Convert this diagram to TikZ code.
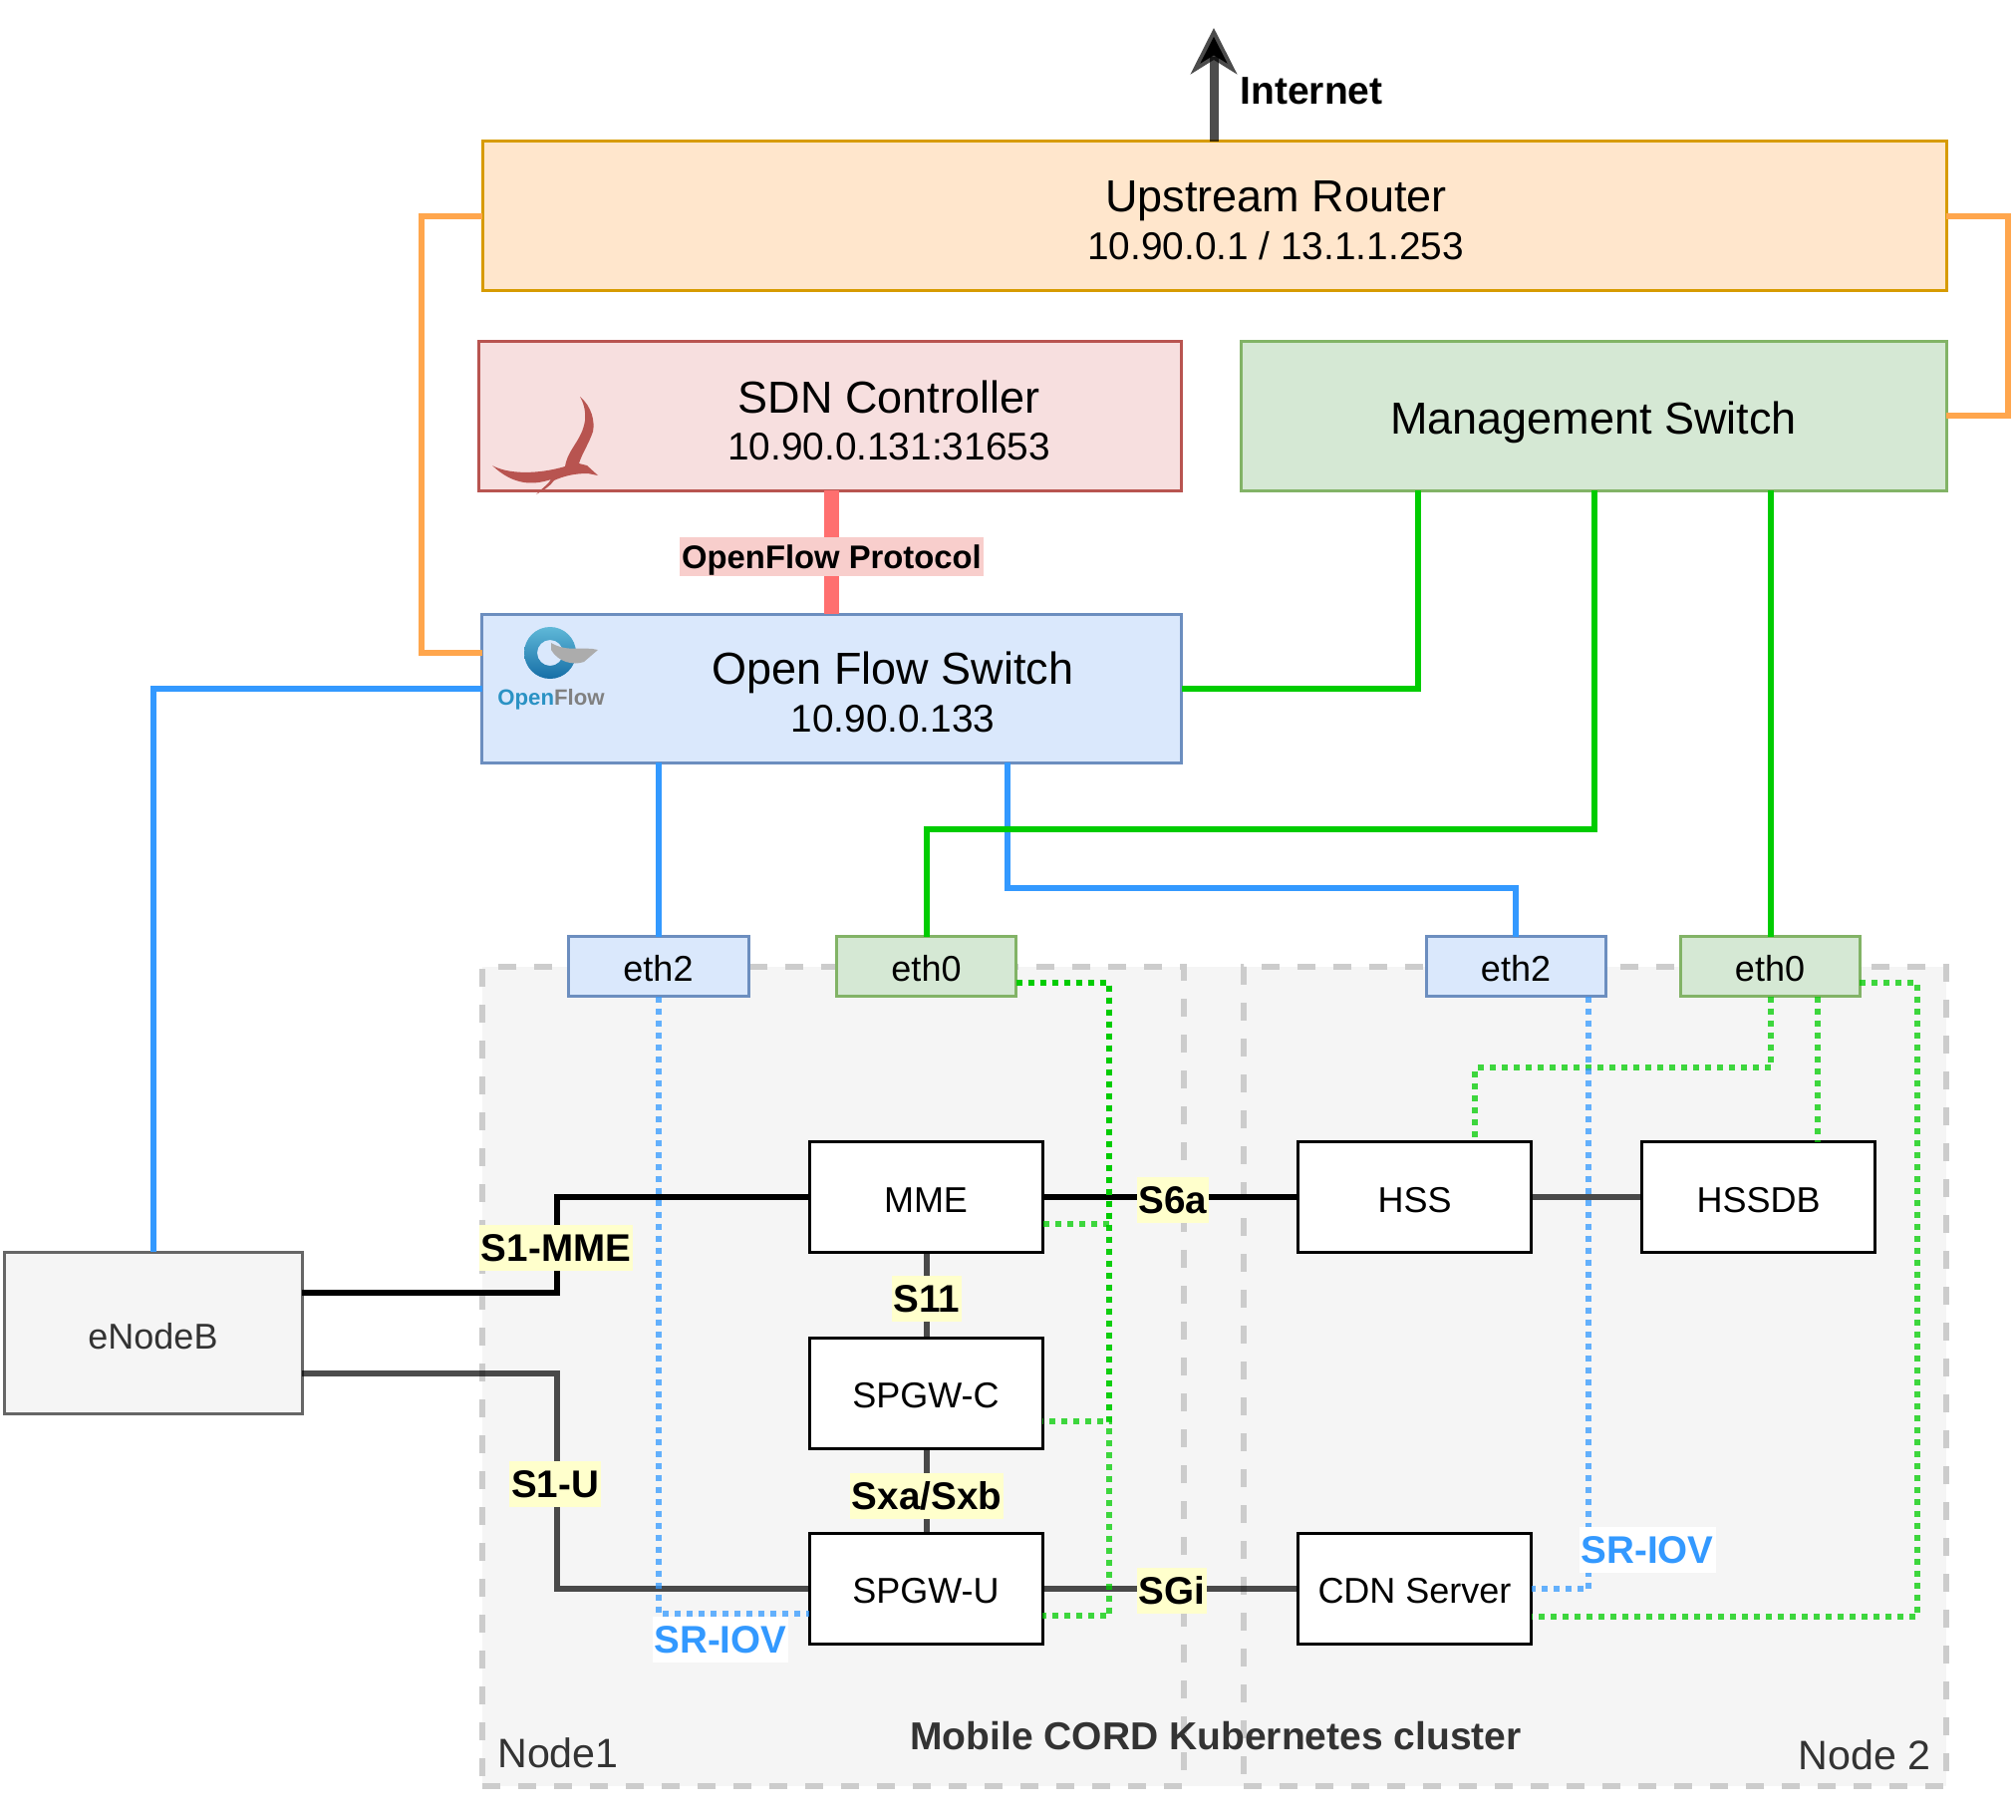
\documentclass[tikz,border=0pt]{standalone}
\usepackage{fontspec}
\setmainfont{Liberation Sans}
\usetikzlibrary{arrows.meta,calc}
\newcommand\fsz[1]{\fontsize{#1}{#1}\selectfont}
\definecolor{cRouterF}{HTML}{FFE6CC}\definecolor{cRouterD}{HTML}{D79B00}
\definecolor{cSdnF}{HTML}{F7DFDF}\definecolor{cSdnD}{HTML}{B85450}
\definecolor{cMgF}{HTML}{D5E8D4}\definecolor{cMgD}{HTML}{82B366}
\definecolor{cOfF}{HTML}{DAE8FC}\definecolor{cOfD}{HTML}{6C8EBF}
\definecolor{cOrange}{HTML}{FFA64D}\definecolor{cBlue}{HTML}{3399FF}
\definecolor{cGreen}{HTML}{00CC00}\definecolor{cRed}{HTML}{FF6F6F}
\definecolor{cPink}{HTML}{F8CECC}\definecolor{cYel}{HTML}{FFFFCC}
\definecolor{cDash}{HTML}{CCCCCC}\definecolor{cBack}{HTML}{F5F5F5}
\definecolor{cTxt}{HTML}{333333}\definecolor{cEnb}{HTML}{666666}
\definecolor{cLogoA}{HTML}{5FB8D8}\definecolor{cLogoB}{HTML}{166EA6}\definecolor{cLogoT}{HTML}{2A92C4}
\tikzset{
  sz/.style 2 args={minimum width=#1*0.5pt,minimum height=#2*0.5pt},
  boxbase/.style={rectangle,inner sep=0pt,outer sep=0pt,line width=1.5pt},
  routerbox/.style={boxbase,fill=cRouterF,draw=cRouterD},
  sdnbox/.style={boxbase,fill=cSdnF,draw=cSdnD},
  mgbox/.style={boxbase,fill=cMgF,draw=cMgD,font=\fsz{22.5},text height=18.2pt,text depth=0pt},
  ofbox/.style={boxbase,fill=cOfF,draw=cOfD},
  ethblue/.style={boxbase,fill=cOfF,draw=cOfD,font=\fsz{18},sz={180}{60},text height=14.6pt,text depth=0pt},
  ethgreen/.style={boxbase,fill=cMgF,draw=cMgD,font=\fsz{18},sz={180}{60},text height=14.6pt,text depth=0pt},
  fnbox/.style={boxbase,fill=white,draw=black,font=\fsz{18},sz={234}{111},text height=15pt,text depth=0pt},
  enbbox/.style={boxbase,fill=cBack,draw=cEnb,text=cTxt,font=\fsz{18},text height=16.2pt,text depth=0pt},
  zonefill/.style={rectangle,inner sep=0pt,outer sep=0pt,fill=cBack},
  zone/.style={rectangle,inner sep=0pt,outer sep=0pt,draw=cDash,line width=3pt,dash pattern=on 9pt off 9pt},
  big/.style={font=\fsz{22.5}},
  small/.style={font=\fsz{19.4}},
  wire/.style={line width=3pt},
  orangew/.style={wire,draw=cOrange},
  bluew/.style={wire,draw=cBlue},
  greenw/.style={wire,draw=cGreen},
  blackw/.style={wire,draw=black},
  grayw/.style={wire,draw=black,draw opacity=.7},
  gdot/.style={line width=3pt,draw=cGreen,draw opacity=.75,dash pattern=on 3pt off 3pt},
  bdot/.style={line width=3pt,draw=cBlue,draw opacity=.75,dash pattern=on 3pt off 3pt},
  iflabel/.style={fill=cYel,inner sep=0pt,inner xsep=1pt,minimum height=23pt,font=\bfseries\fsz{19.3}},
  srlabel/.style={fill=white,text=cBlue,inner sep=0pt,inner xsep=1pt,minimum height=23pt,font=\bfseries\fsz{19.3}},
}
\begin{document}
\begin{tikzpicture}[x=0.5pt,y=-0.5pt]
\useasboundingbox[fill=white] (0,0) rectangle (2023,1825);
% cluster zones
\node[zonefill,sz={1469}{822}] (cluster) at (1218.5,1381) {};
\node[zone,sz={704}{822}] (node1) at (836,1381) {};
\node[zone,sz={705}{822}] (node2) at (1600.5,1381) {};
% top boxes
\node[routerbox,sz={1469}{149}] (router) at (1218.5,216.5) {};
\node[sdnbox,sz={705}{150}] (sdn) at (832.5,417) {};
\node[mgbox,sz={708}{150}] (mgmt) at (1599,417) {Management Switch};
\node[ofbox,sz={702}{149}] (of) at (834.5,690.5) {};
\node[big] (routerA) at (1280.5,202) {Upstream Router};
\node[small] (routerB) at (1280,247) {10.90.0.1 / 13.1.1.253};
\node[big] (sdnA) at (892,398) {SDN Controller};
\node[small] (sdnB) at (892,448) {10.90.0.131:31653};
\node[big] (ofA) at (896,675) {Open Flow Switch};
\node[small] (ofB) at (896,721) {10.90.0.133};
% bird
\fill[cSdnD] (582,398) .. controls (594,408) and (597,423) .. (595,433) .. controls (591,445) and (584,455) .. (581,465)
  -- (589,467) -- (600,477) -- (590,475) .. controls (575,475) and (565,478) .. (556,482)
  .. controls (552,488) and (545,492) .. (538,496) .. controls (544,490) and (550,486) .. (553,481)
  .. controls (535,487) and (515,487) .. (494,467) .. controls (510,476) and (540,476) .. (567,468)
  .. controls (570,450) and (584,442) .. (587,422) .. controls (588,411) and (585,403) .. (582,398) -- cycle;
% OpenFlow logo
\shade[top color=cLogoA,bottom color=cLogoB,even odd rule] (552,655) circle (26) (552,655) circle (13);
\fill[gray!65] (553,645) .. controls (570,655) and (585,648) .. (600,652) -- (586,664) .. controls (575,668) and (560,664) .. (553,652) -- cycle;
\node[font=\bfseries\fsz{11.1},inner sep=0pt] (oflogo) at (553,702) {\textcolor{cLogoT}{Open}\textcolor{gray}{Flow}};
% interfaces
\node[ethblue,sz={181}{60}] (ethA) at (660.5,969.5) {eth2};
\node[ethgreen] (ethB) at (929.5,969.5) {eth0};
\node[ethblue] (ethC) at (1521,969.5) {eth2};
\node[ethgreen] (ethD) at (1776,969.5) {eth0};
% functions
\node[fnbox] (mme) at (929,1201) {MME};
\node[fnbox] (spgwc) at (929,1397.5) {SPGW-C};
\node[fnbox] (spgwu) at (929,1593.5) {SPGW-U};
\node[fnbox] (hss) at (1419.5,1201) {HSS};
\node[fnbox] (hssdb) at (1764.5,1201) {HSSDB};
\node[fnbox] (cdn) at (1419.5,1593.5) {CDN Server};
\node[enbbox,sz={299}{162}] (enb) at (153.5,1337) {eNodeB};
% internet
\coordinate (net) at (1218,28);
\draw[grayw,line width=4.5pt,-{Stealth[length=23pt,width=23pt,inset=7pt]}] (router.north -| net) -- (net);
\fill[black,opacity=.45] (1218,38) -- (1231,62) -- (1218,56) -- (1205,62) -- cycle;
\node[font=\bfseries\fsz{19.5}] (nettxt) at (1316,91) {Internet};
% orange
\draw[orangew] (router.west) -- (423,216.5) -- (423,655) -- (of.west |- 0,655);
\draw[orangew] (router.east) -- (2015,216.5) -- (2015,417) -- (mgmt.east);
% openflow protocol
\draw[draw=cRed,line width=7.5pt] (sdn.south -| 834,0) -- (of.north -| 834,0);
\node[fill=cPink,inner sep=0pt,inner xsep=1pt,minimum height=19.5pt,text height=12.4pt,text depth=0pt,font=\bfseries\fsz{16.4}] (oftxt) at (834.5,558.5) {OpenFlow Protocol};
% blue links
\draw[bluew] (of.west) -- (154,690.5) -- (enb.north -| 154,0);
\draw[bluew] (of.south -| ethA) -- (ethA);
\draw[bluew] (of.south -| 1011,0) -- (1011,891) -- (1521,891) -- (ethC.north);
% green links
\draw[greenw] (of.east) -- (1423,690.5) -- (mgmt.south -| 1423,0);
\draw[greenw] (mgmt.south -| 1600,0) -- (1600,832) -- (930,832) -- (ethB.north -| 930,0);
\draw[greenw] (mgmt.south -| 1777,0) -- (ethD.north -| 1777,0);
% interface links
\draw[blackw] (enb.east |- 0,1297) -- (559,1297) -- (559,1201) -- (mme.west);
\draw[grayw] (enb.east |- 0,1378) -- (559,1378) -- (559,1593.5) -- (spgwu.west);
\draw[blackw] (mme.east) -- (hss.west);
\draw[grayw] (hss.east) -- (hssdb.west);
\draw[grayw] (mme.south -| 930,0) -- (spgwc.north -| 930,0);
\draw[grayw] (spgwc.south -| 930,0) -- (spgwu.north -| 930,0);
\draw[grayw] (spgwu.east) -- (cdn.west);
% dotted green
\draw[gdot] (ethB.east |- 0,986) -- (1113,986) -- (1113,1228) -- (mme.east |- 0,1228);
\draw[gdot] (ethB.east |- 0,986) -- (1113,986) -- (1113,1426) -- (spgwc.east |- 0,1426);
\draw[gdot] (ethB.east |- 0,986) -- (1113,986) -- (1113,1621) -- (spgwu.east |- 0,1621);
\draw[gdot] (ethD.south -| 1777,0) -- (1777,1071) -- (1480,1071) -- (hss.north -| 1480,0);
\draw[gdot] (ethD.south -| 1824,0) -- (hssdb.north -| 1824,0);
\draw[gdot] (ethD.east |- 0,986) -- (1924,986) -- (1924,1622) -- (cdn.east |- 0,1622);
% dotted blue
\draw[bdot] (ethA.south) -- (660.5,1619) -- (spgwu.west |- 0,1619);
\draw[bdot] (ethC.south -| 1594,0) -- (1594,1594) -- (cdn.east |- 0,1594);
% labels
\node[iflabel] (lS1mme) at (558,1252) {S1-MME};
\node[iflabel] (lS1u) at (557,1489) {S1-U};
\node[iflabel] (lS11) at (930,1303) {S11};
\node[iflabel] (lSx) at (930,1501) {Sxa/Sxb};
\node[iflabel] (lS6a) at (1177,1204) {S6a};
\node[iflabel] (lSgi) at (1176,1596) {SGi};
\node[srlabel] (lSr1) at (723,1645) {SR-IOV};
\node[srlabel] (lSr2) at (1653,1555) {SR-IOV};
\node[font=\fsz{20.6},text=cTxt] (n1txt) at (560,1759) {Node1};
\node[font=\fsz{20.6},text=cTxt] (n2txt) at (1871,1761) {Node 2};
\node[font=\bfseries\fsz{19.5},text=cTxt] (clusttxt) at (1220,1742) {Mobile CORD Kubernetes cluster};
\end{tikzpicture}
\end{document}
